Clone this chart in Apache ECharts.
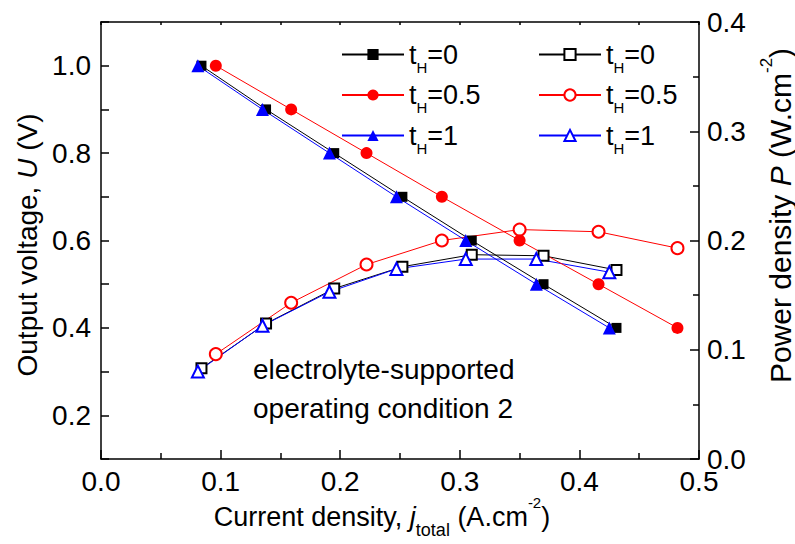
<!DOCTYPE html>
<html>
<head>
<meta charset="utf-8">
<script src="https://cdn.jsdelivr.net/npm/echarts@6/dist/echarts.min.js"></script>
<style>
  html, body { margin: 0; padding: 0; background: #fff; }
  #chart { width: 795px; height: 544px; }
</style>
</head>
<body>
<div id="chart"></div>
<script>
// output voltage steps (V), same for every t_H
var voltage = [1.0, 0.9, 0.8, 0.7, 0.6, 0.5, 0.4];
// current density j_total (A.cm-2)
var j_t0  = [0.084, 0.138, 0.195, 0.252, 0.310, 0.370, 0.431];
var j_t05 = [0.096, 0.159, 0.222, 0.285, 0.350, 0.416, 0.482];
var j_t1  = [0.081, 0.135, 0.191, 0.247, 0.305, 0.364, 0.425];
// power density P (W.cm-2)
var p_t0  = [0.083, 0.124, 0.156, 0.176, 0.187, 0.186, 0.173];
var p_t05 = [0.096, 0.143, 0.178, 0.200, 0.210, 0.208, 0.193];
var p_t1  = [0.080, 0.122, 0.153, 0.174, 0.183, 0.183, 0.171];
var xTicks = [0, 0.5, 0.1];
var uTicks = [0.1, 1.1, 0.1];
var pTicks = [0, 0.4, 0.1];
var tLabels = {U_t0: '0', U_t05: '0.5', U_t1: '1', P_t0: '0', P_t05: '0.5', P_t1: '1'};

var FF = '"Liberation Sans", Arial, sans-serif';

function pairs(xs, ys) {
  return xs.map(function (x, i) { return [x, ys[i]]; });
}

// rich styles for axis names (italic symbol, sub- and superscripts)
function nameRich(size) {
  return {
    n:   { fontFamily: FF, fontSize: size, lineHeight: 44, color: '#000' },
    i:   { fontFamily: FF, fontSize: size, lineHeight: 44, fontStyle: 'italic', color: '#000' },
    sub: { fontFamily: FF, fontSize: 18, lineHeight: 18, verticalAlign: 'bottom', color: '#000' },
    sup: { fontFamily: FF, fontSize: Math.round(size * 0.56), lineHeight: 36, verticalAlign: 'top', color: '#000' }
  };
}

var blackLine = { color: '#000', width: 1.5 };

function legendFmt(name) {
  return '{t|t}{h|H}{t|=' + tLabels[name] + '}';
}
var legendText = {
  fontFamily: FF, fontSize: 27, color: '#000',
  rich: {
    t: { fontFamily: FF, fontSize: 27, lineHeight: 40, color: '#000' },
    h: { fontFamily: FF, fontSize: 15, lineHeight: 14, verticalAlign: 'bottom', color: '#000' }
  }
};

var myChart = echarts.init(document.getElementById('chart'), null, { renderer: 'svg' });

var option = {
  animation: false,
  backgroundColor: '#fff',
  grid: { left: 101, right: 96, top: 22, bottom: 85, containLabel: false, outerBoundsMode: 'none' },
  legend: [
    {
      left: 336, top: 36, orient: 'vertical',
      itemWidth: 62, itemHeight: 14, itemGap: 7,
      selectedMode: false,
      data: ['U_t0', 'U_t05', 'U_t1'],
      formatter: legendFmt, textStyle: legendText
    },
    {
      left: 533, top: 36, orient: 'vertical',
      itemWidth: 62, itemHeight: 14, itemGap: 7,
      selectedMode: false,
      data: ['P_t0', 'P_t05', 'P_t1'],
      formatter: legendFmt, textStyle: legendText
    }
  ],
  xAxis: [
    {
      type: 'value', position: 'bottom',
      min: xTicks[0], max: xTicks[1], interval: xTicks[2],
      axisLine: { onZero: false, lineStyle: blackLine },
      axisTick: { inside: true, length: 9, lineStyle: blackLine },
      minorTick: { show: true, splitNumber: 2, length: 6, lineStyle: blackLine },
      splitLine: { show: false },
      axisLabel: {
        color: '#000', fontFamily: FF, fontSize: 28, margin: 8,
        formatter: function (v) { return v.toFixed(1); }
      },
      name: '{n|Current density, }{i|j}{sub|total}{n| (A.cm}{sup|-2}{n|)}',
      nameLocation: 'middle', nameGap: 36, nameMoveOverlap: false,
      nameTextStyle: { fontFamily: FF, fontSize: 27, color: '#000', padding: [0, 36, 0, 0], rich: nameRich(27) }
    },
    {
      type: 'value', position: 'top',
      min: 0, max: 0.5, interval: 0.05,
      axisLine: { onZero: false, lineStyle: blackLine },
      axisTick: { inside: true, length: 3, lineStyle: blackLine },
      splitLine: { show: false },
      axisLabel: { show: false }
    }
  ],
  yAxis: [
    {
      type: 'value', position: 'left',
      min: uTicks[0], max: uTicks[1], interval: uTicks[2],
      axisLine: { show: true, onZero: false, lineStyle: blackLine },
      axisTick: { show: true, inside: true, length: 8, lineStyle: blackLine },
      splitLine: { show: false },
      axisLabel: {
        color: '#000', fontFamily: FF, fontSize: 28, margin: 10,
        formatter: function (v) {
          return Math.round(v * 10) % 2 === 0 ? v.toFixed(1) : '';
        }
      },
      name: '{n|Output voltage, }{i|U}{n| (V)}',
      nameLocation: 'middle', nameGap: 52, nameMoveOverlap: false,
      nameTextStyle: { fontFamily: FF, fontSize: 28, color: '#000', padding: [0, 9, 0, 0], rich: nameRich(28) }
    },
    {
      type: 'value', position: 'right',
      min: pTicks[0], max: pTicks[1], interval: pTicks[2],
      axisLine: { show: true, onZero: false, lineStyle: blackLine },
      axisTick: { show: true, inside: true, length: 9, lineStyle: blackLine },
      minorTick: { show: true, splitNumber: 2, length: 6, lineStyle: blackLine },
      splitLine: { show: false },
      axisLabel: {
        color: '#000', fontFamily: FF, fontSize: 28, margin: 8,
        formatter: function (v) { return v.toFixed(1); }
      },
      name: '{n|Power density }{i|P}{n| (W.cm}{sup|-2}{n|)}',
      nameLocation: 'middle', nameGap: 59, nameMoveOverlap: false,
      nameTextStyle: { fontFamily: FF, fontSize: 30, color: '#000', padding: [0, 0, 0, 50], rich: nameRich(30) }
    }
  ],
  graphic: [
    {
      type: 'text', left: 253, top: 350,
      style: {
        text: 'electrolyte-supported\noperating condition 2',
        fontFamily: FF, fontSize: 28, lineHeight: 39, fill: '#000'
      }
    }
  ],
  series: [
    { name: 'P_t0', type: 'line', yAxisIndex: 1, data: pairs(j_t0, p_t0),
      symbol: 'emptyRect', symbolSize: 10,
      itemStyle: { color: '#000', borderWidth: 1 }, lineStyle: { color: '#000', width: 1 } },
    { name: 'P_t05', type: 'line', yAxisIndex: 1, data: pairs(j_t05, p_t05),
      symbol: 'emptyCircle', symbolSize: 12,
      itemStyle: { color: '#ff0000', borderWidth: 1 }, lineStyle: { color: '#ff0000', width: 1 } },
    { name: 'P_t1', type: 'line', yAxisIndex: 1, data: pairs(j_t1, p_t1),
      symbol: 'emptyTriangle', symbolSize: 12,
      itemStyle: { color: '#0000ff', borderWidth: 1 }, lineStyle: { color: '#0000ff', width: 1 } },
    { name: 'U_t0', type: 'line', yAxisIndex: 0, data: pairs(j_t0, voltage),
      symbol: 'rect', symbolSize: 10,
      itemStyle: { color: '#000' }, lineStyle: { color: '#000', width: 1 } },
    { name: 'U_t05', type: 'line', yAxisIndex: 0, data: pairs(j_t05, voltage),
      symbol: 'circle', symbolSize: 12,
      itemStyle: { color: '#ff0000' }, lineStyle: { color: '#ff0000', width: 1 } },
    { name: 'U_t1', type: 'line', yAxisIndex: 0, data: pairs(j_t1, voltage),
      symbol: 'triangle', symbolSize: 13,
      itemStyle: { color: '#0000ff' }, lineStyle: { color: '#0000ff', width: 1 } }
  ]
};

myChart.setOption(option);
</script>
</body>
</html>
